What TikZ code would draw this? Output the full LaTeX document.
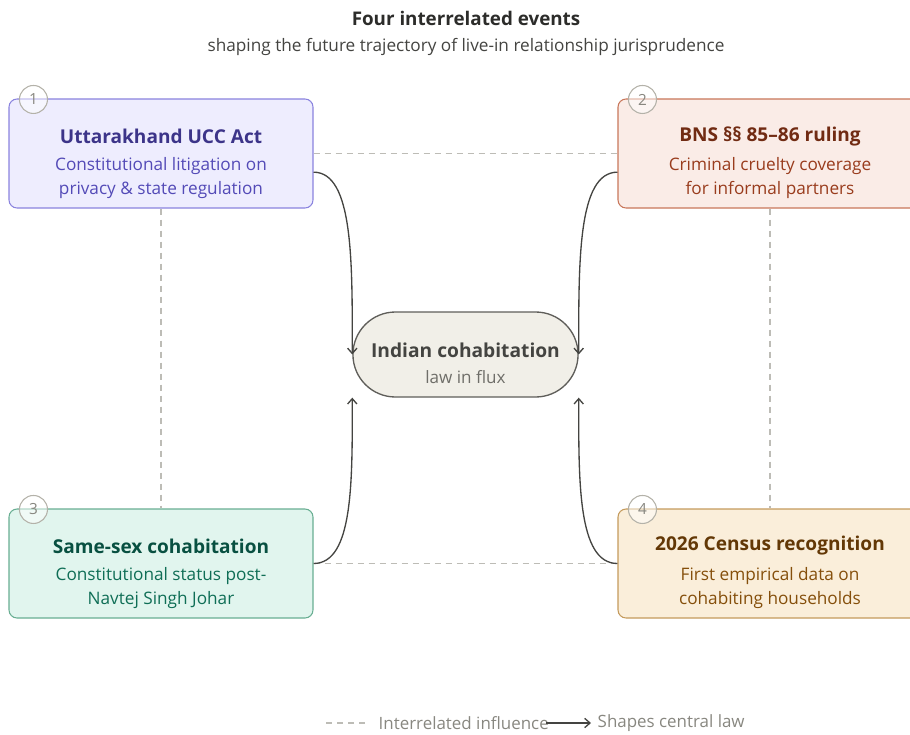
\documentclass[tikz,border=0pt]{standalone}
\usepackage{fontspec}
\setmainfont{Open Sans}
\usetikzlibrary{positioning,shapes.misc,arrows.meta}

\definecolor{pfill}{HTML}{EEEDFE}\definecolor{pline}{HTML}{8A83DE}
\definecolor{pttl}{HTML}{3C3489}\definecolor{psub}{HTML}{534AB7}
\definecolor{cfill}{HTML}{FAECE7}\definecolor{cline}{HTML}{C8765A}
\definecolor{cttl}{HTML}{712B13}\definecolor{csub}{HTML}{993C1D}
\definecolor{tfill}{HTML}{E1F5EE}\definecolor{tline}{HTML}{68AE92}
\definecolor{tttl}{HTML}{085041}\definecolor{tsub}{HTML}{0F6E56}
\definecolor{afill}{HTML}{FAEEDA}\definecolor{aline}{HTML}{C49A5C}
\definecolor{attl}{HTML}{633806}\definecolor{asub}{HTML}{854F0B}
\definecolor{lawfill}{HTML}{F1EFE8}\definecolor{lawline}{HTML}{5F5E5A}
\definecolor{lawttl}{HTML}{444441}\definecolor{lawsub}{HTML}{6F6E69}
\definecolor{dashgray}{HTML}{BDBCB6}\definecolor{numgray}{HTML}{B4B2A9}
\definecolor{keygray}{HTML}{888780}\definecolor{ink}{HTML}{2C2C2A}

\begin{document}
\begin{tikzpicture}[x=0.75pt,y=-0.75pt,
  evbox/.style={draw,rounded corners=6pt,line width=0.8pt,minimum width=228pt,minimum height=81.75pt},
  ttl/.style={font=\bfseries\fontsize{14.3}{17}\selectfont},
  sub/.style={font=\fontsize{12.9}{18}\selectfont,align=center},
  num/.style={circle,draw=numgray,line width=0.8pt,fill=white,fill opacity=.5,text opacity=1,
    minimum size=21pt,inner sep=0pt,text=keygray,font=\fontsize{11.5}{13}\selectfont},
  infl/.style={draw=dashgray,line width=0.9pt,dash pattern=on 4.5pt off 3.75pt},
  shp/.style={draw=lawttl,line width=1pt,-{Straight Barb[length=4pt,width=7pt]}},
  key/.style={anchor=west,text=keygray,font=\fontsize{12.7}{15}\selectfont}]
  \useasboundingbox (0,0) rectangle (910,735);
  \clip (0,0) rectangle (910,735);

  \node[font=\bfseries\fontsize{14.1}{17}\selectfont,text=ink] (head) at (466,18) {Four interrelated events};
  \node[font=\fontsize{12.9}{15}\selectfont,text=lawttl] (subhead) at (466,47) {shaping the future trajectory of live-in relationship jurisprudence};

  % the four events
  \node[evbox,draw=pline,fill=pfill] (ucc) at (161,153.5) {};
  \node[evbox,draw=cline,fill=cfill] (bns) at (770,153.5) {};
  \node[evbox,draw=tline,fill=tfill] (same) at (161,563.5) {};
  \node[evbox,draw=aline,fill=afill] (census) at (770,563.5) {};

  % central node
  \node[rounded rectangle,draw=lawline,fill=lawfill,line width=1pt,
    minimum width=175.5pt,minimum height=63.75pt] (law) at (465.5,354.5) {};
  \node[font=\bfseries\fontsize{14.4}{17}\selectfont,text=lawttl] at ([yshift=3.4pt]law.center) {Indian cohabitation};
  \node[font=\fontsize{12.8}{15}\selectfont,text=lawsub] at ([yshift=-16.9pt]law.center) {law in flux};

  \node[ttl,text=pttl] at ([yshift=13.1pt]ucc.center) {Uttarakhand UCC Act};
  \node[sub,text=psub] at ([yshift=-18.3pt]ucc.center) {Constitutional litigation on\\privacy \& state regulation};
  \node[ttl,text=cttl] at ([yshift=13.1pt]bns.center) {BNS §§ 85–86 ruling};
  \node[sub,text=csub] at ([yshift=-18.3pt]bns.center) {Criminal cruelty coverage\\for informal partners};
  \node[ttl,text=tttl] at ([yshift=13.1pt]same.center) {Same-sex cohabitation};
  \node[sub,text=tsub] at ([yshift=-18.3pt]same.center) {Constitutional status post-\\Navtej Singh Johar};
  \node[ttl,text=attl] at ([yshift=13.1pt]census.center) {2026 Census recognition};
  \node[sub,text=asub] at ([yshift=-18.3pt]census.center) {First empirical data on\\cohabiting households};

  % interrelations
  \draw[infl] (ucc.east) -- (bns.west);
  \draw[infl] (same.east) -- (census.west);
  \draw[infl] (ucc.south) -- (same.north);
  \draw[infl] (bns.south) -- (census.north);

  \draw[shp] ([yshift=-14pt]ucc.east) .. controls +(40,0) and +(0,-92) .. (law.west);
  \draw[shp] ([yshift=-14pt]bns.west) .. controls +(-40,0) and +(0,-92) .. (law.east);
  \draw[shp] (same.east) .. controls +(40,0) and +(0,83) .. (law.west |- law.south);
  \draw[shp] (census.west) .. controls +(-40,0) and +(0,83) .. (law.east |- law.south);

  \node[num] (n1) at ([xshift=18.75pt,yshift=-.75pt]ucc.north west) {1};
  \node[num] (n2) at ([xshift=18.75pt,yshift=-.75pt]bns.north west) {2};
  \node[num] (n3) at ([xshift=18.75pt,yshift=-.75pt]same.north west) {3};
  \node[num] (n4) at ([xshift=18.75pt,yshift=-.75pt]census.north west) {4};

  % key
  \coordinate (k1a) at (326,723);
  \coordinate (k1b) at (368,723);
  \draw[infl] (k1a) -- (k1b);
  \node[key] (k1) at (374,723) {Interrelated influence};
  \coordinate (k2a) at (546,723);
  \coordinate (k2b) at (591,723);
  \draw[shp] (k2a) -- (k2b);
  \node[key] (k2) at (593,723) {Shapes central law};
\end{tikzpicture}
\end{document}
